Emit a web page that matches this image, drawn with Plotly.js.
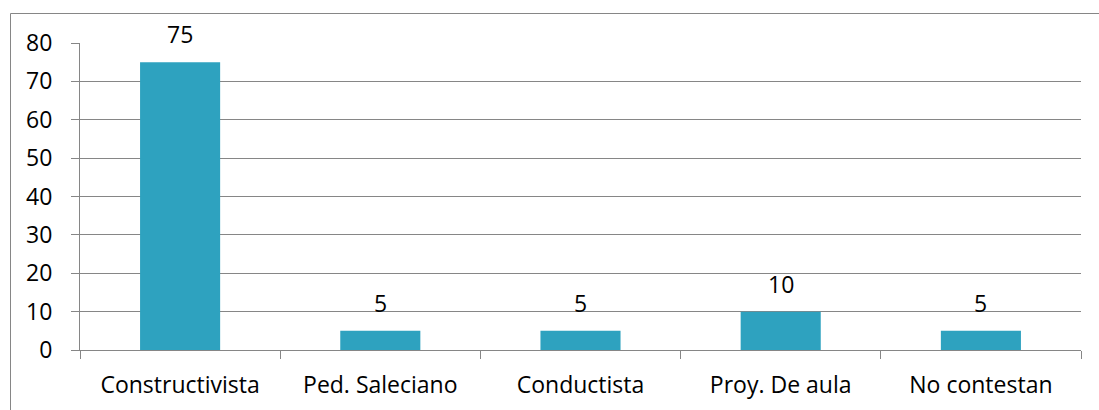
<!DOCTYPE html>
<html>
<head>
<meta charset="utf-8">
<script src="https://cdn.plot.ly/plotly-3.0.1.min.js"></script>
<style>html,body{margin:0;padding:0;background:#fff;}#chart{width:1099px;height:410px;}</style>
</head>
<body>
<div id="chart"></div>
<script>
const categories = ["Constructivista", "Ped. Saleciano", "Conductista", "Proy. De aula", "No contestan"];
const values = [75, 5, 5, 10, 5];
const yTicks = [0, 10, 20, 30, 40, 50, 60, 70, 80];

const font = {family: "Open Sans, Liberation Sans, sans-serif", size: 23, color: "#000"};

const trace = {
  type: "bar",
  x: categories,
  y: values,
  marker: {color: "#2EA2BF"},
  hoverinfo: "none"
};

const annotations = categories.map((c, i) => ({
  x: c, y: values[i], xref: "x", yref: "y",
  text: String(values[i]), showarrow: false,
  yanchor: "bottom", yshift: 10, font: font
}));

const L = 80, R = 1081, T = 43, B = 350;
const px2x = px => (px - L) / (R - L);
const px2y = py => (B - py) / (B - T);

const layout = {
  width: 1099, height: 410,
  margin: {l: L, r: 1099 - R, t: T, b: 410 - B, pad: 0},
  paper_bgcolor: "#fff", plot_bgcolor: "#fff",
  font: font,
  bargap: 0.6,
  showlegend: false,
  xaxis: {
    type: "category", range: [-0.5, 4.5],
    showgrid: false, zeroline: false,
    showline: true, linecolor: "#868686", linewidth: 1,
    ticks: "outside", tickson: "boundaries", ticklen: 8, tickcolor: "#868686",
    ticklabelstandoff: 14,
    tickfont: font
  },
  yaxis: {
    range: [0, 80], tickvals: yTicks,
    showgrid: true, gridcolor: "#868686", gridwidth: 1,
    zeroline: false,
    showline: true, linecolor: "#868686", linewidth: 1,
    ticks: "outside", ticklen: 8, tickcolor: "#868686",
    ticklabelstandoff: 14,
    tickfont: font
  },
  annotations: annotations,
  shapes: [
    {type: "line", xref: "paper", yref: "paper", x0: px2x(10.5), x1: px2x(1100), y0: px2y(13.5), y1: px2y(13.5), line: {color: "#868686", width: 1}},
    {type: "line", xref: "paper", yref: "paper", x0: px2x(10.5), x1: px2x(10.5), y0: px2y(13.5), y1: px2y(412), line: {color: "#868686", width: 1}}
  ]
};

Plotly.newPlot("chart", [trace], layout, {staticPlot: true, displayModeBar: false});
</script>
</body>
</html>
